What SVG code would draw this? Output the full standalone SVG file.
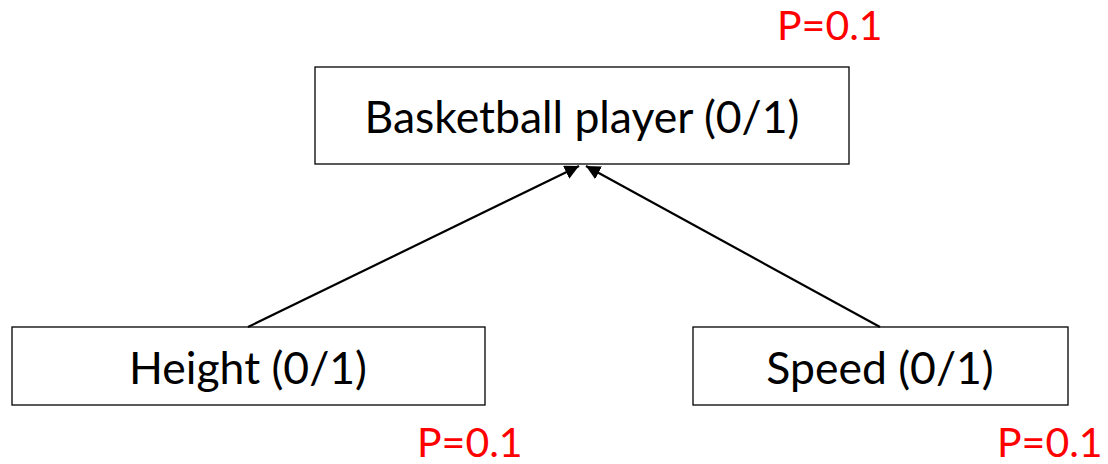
<svg xmlns="http://www.w3.org/2000/svg" width="1108" height="464" viewBox="0 0 1108 464">
  <style>
    .box { fill: #ffffff; stroke: #000000; stroke-width: 1.3; }
    .label { font-family: Lato, "Open Sans", "Liberation Sans", sans-serif; font-size: 44.5px; fill: #000000; text-anchor: middle; }
    .prob { font-family: Lato, "Open Sans", "Liberation Sans", sans-serif; font-size: 41px; fill: #ff0000; }
    .edge { stroke: #000000; stroke-width: 2.2; fill: none; marker-end: url(#arrow); }
  </style>
  <defs>
    <marker id="arrow" viewBox="0 0 10 10" refX="10" refY="5" markerWidth="6.5" markerHeight="6.5" markerUnits="strokeWidth" orient="auto">
      <path d="M0,0 L10,5 L0,10 Z" fill="#000000"/>
    </marker>
  </defs>
  <rect width="1108" height="464" fill="#ffffff"/>

  <g id="basketball-player">
    <rect class="box" x="315" y="67" width="534" height="97"/>
    <text class="label" x="582" y="133">Basketball player (0/1)</text>
  </g>

  <g id="height">
    <rect class="box" x="12" y="327" width="473" height="78"/>
    <text class="label" x="248" y="384">Height (0/1)</text>
  </g>

  <g id="speed">
    <rect class="box" x="693" y="327" width="375" height="78"/>
    <text class="label" x="880" y="384">Speed (0/1)</text>
  </g>

  <g id="probabilities">
    <text class="prob" x="777" y="40">P=0.1</text>
    <text class="prob" x="417" y="457">P=0.1</text>
    <text class="prob" x="997" y="457">P=0.1</text>
  </g>

  <g id="connectors">
    <line class="edge" x1="248" y1="327" x2="579" y2="166"/>
    <line class="edge" x1="880" y1="327" x2="586" y2="166"/>
  </g>
</svg>
